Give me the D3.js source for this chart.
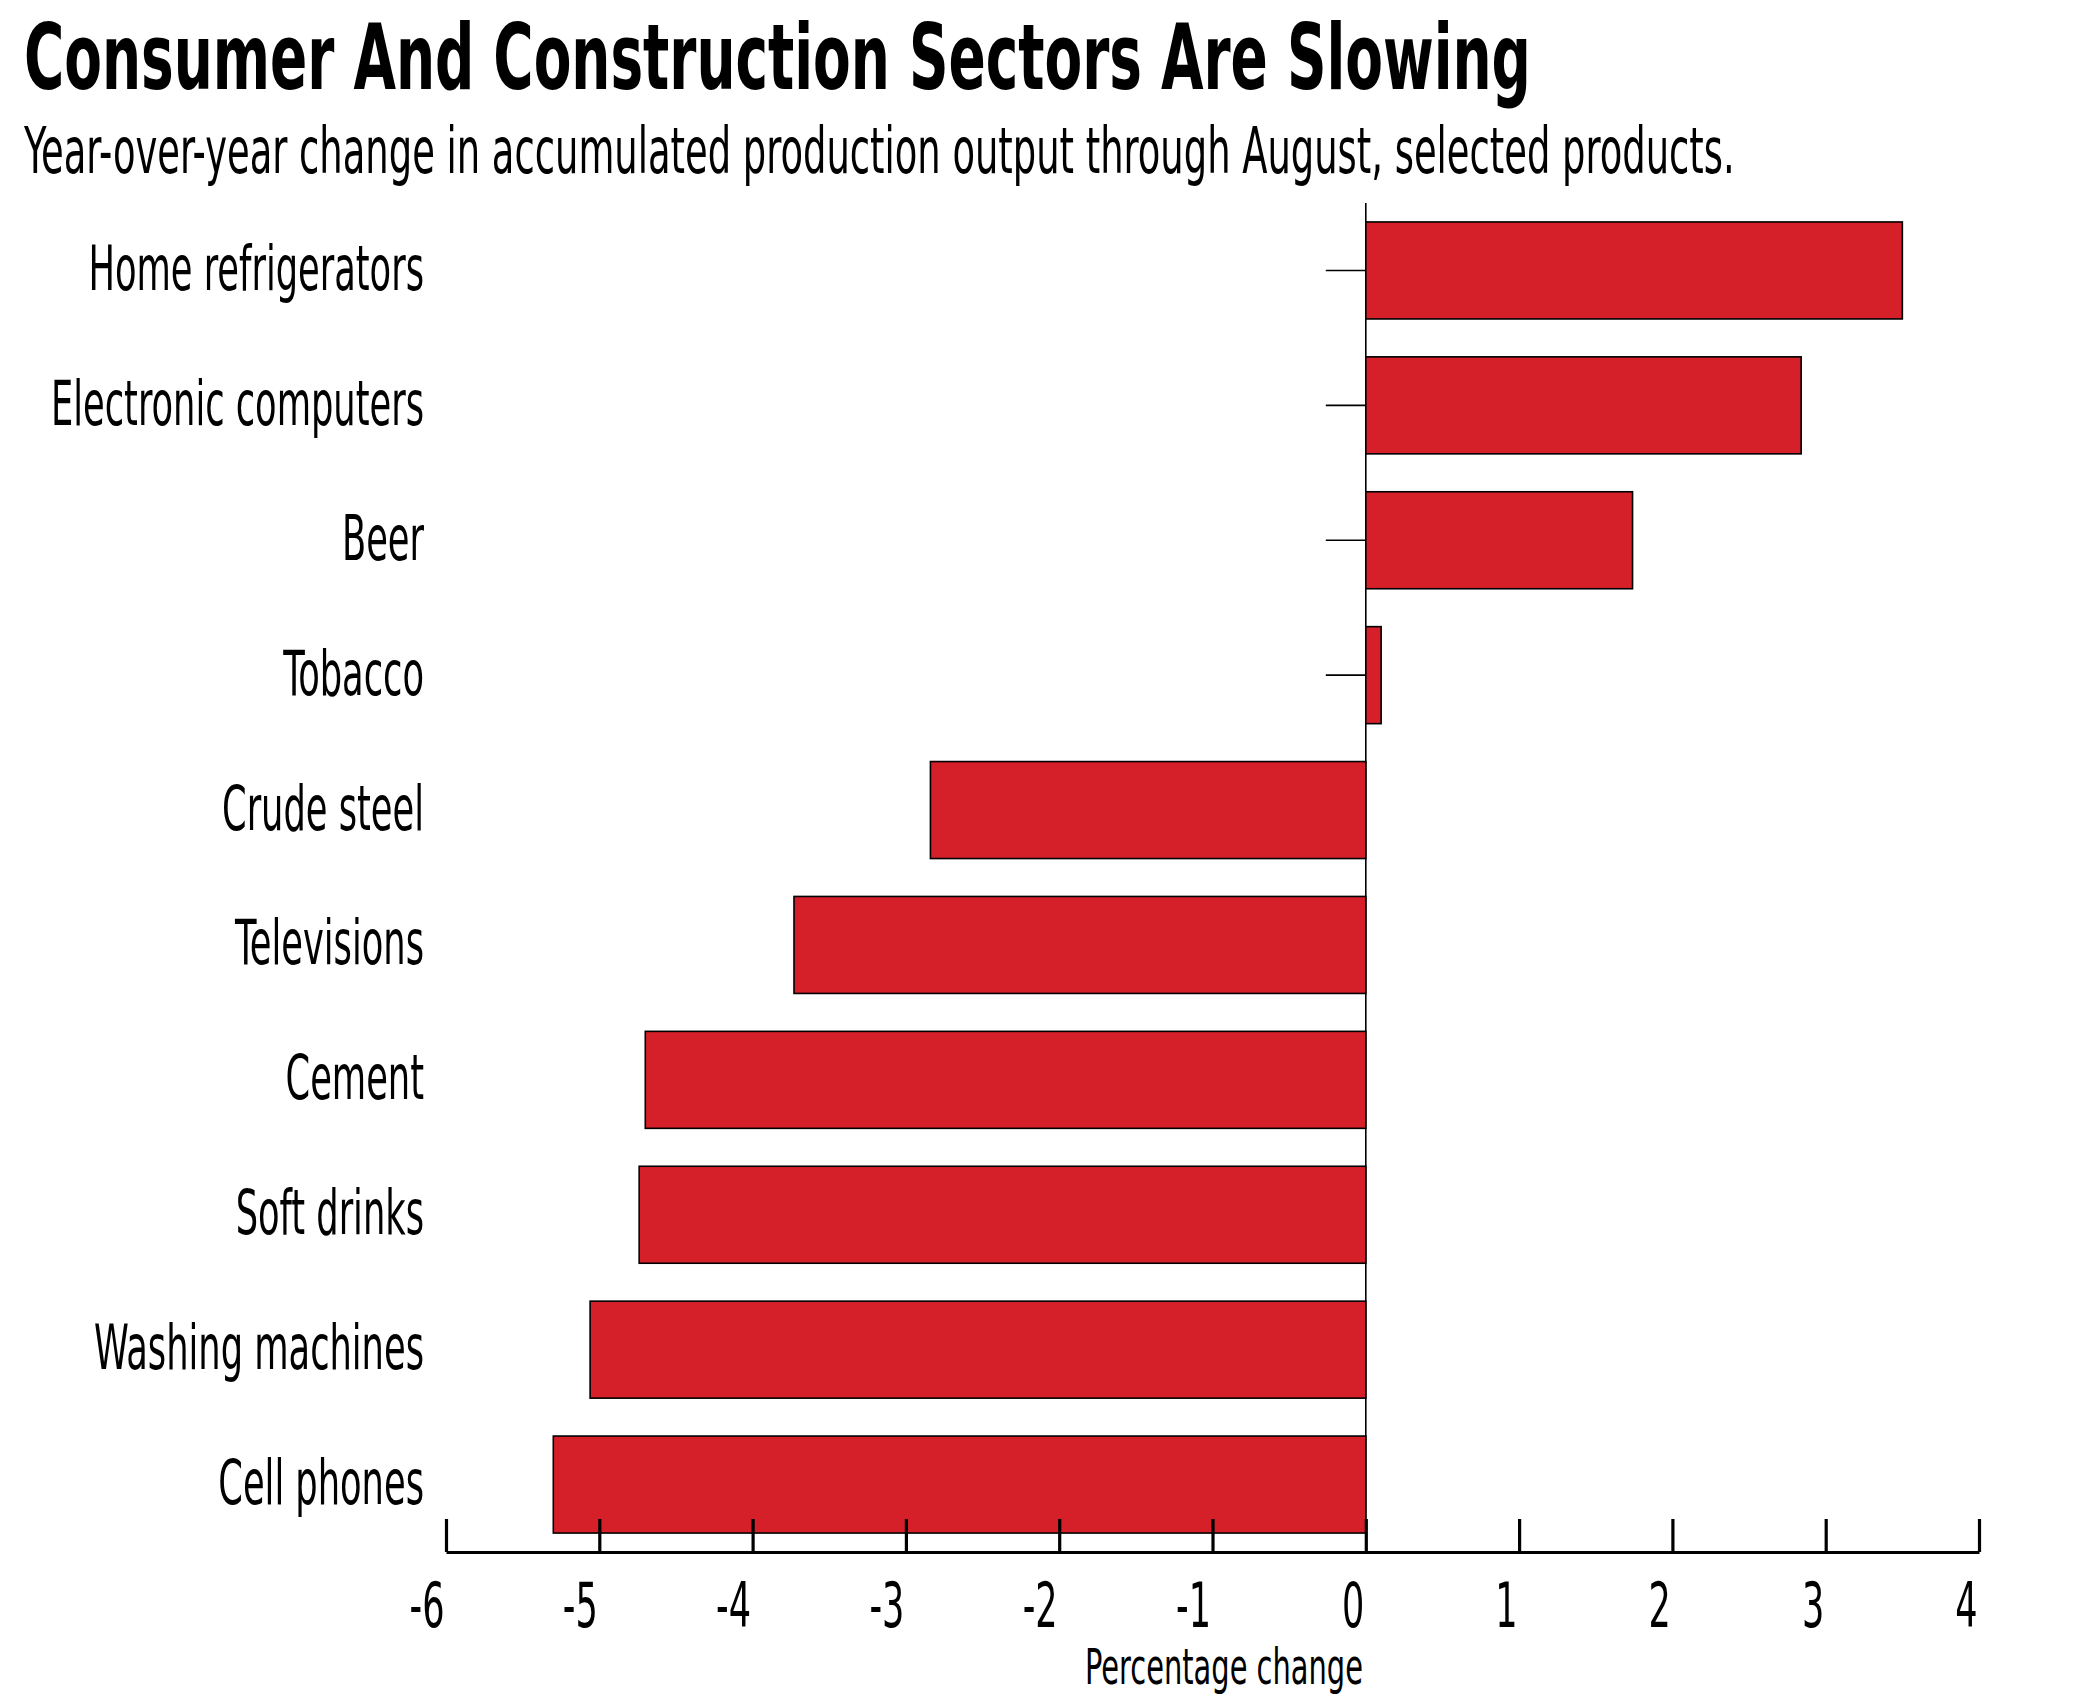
<!DOCTYPE html>
<html>
<head>
<meta charset="utf-8">
<script src="https://cdn.jsdelivr.net/npm/d3@7"></script>
<style>
  html, body { margin: 0; padding: 0; background: #fff; }
  svg { display: block; }
  text { font-family: "Liberation Sans Narrow", "DejaVu Sans Condensed", "Liberation Sans", sans-serif; fill: #000; }
</style>
</head>
<body>
<svg id="chart" width="2095" height="1699"></svg>
<script>
const titleText = "Consumer And Construction Sectors Are Slowing";
const subtitleText = "Year-over-year change in accumulated production output through August, selected products.";
const axisTitleText = "Percentage change";
const categories = ["Home refrigerators", "Electronic computers", "Beer", "Tobacco", "Crude steel",
                    "Televisions", "Cement", "Soft drinks", "Washing machines", "Cell phones"];
const values = [3.50, 2.84, 1.74, 0.10, -2.84, -3.73, -4.70, -4.74, -5.06, -5.30];
const xTicks = [-6, -5, -4, -3, -2, -1, 0, 1, 2, 3, 4];
const xTickLabels = ["-6", "-5", "-4", "-3", "-2", "-1", "0", "1", "2", "3", "4"];

const svg = d3.select("#chart");
svg.append("rect").attr("width", 2095).attr("height", 1699).attr("fill", "#fff");

const x = d3.scaleLinear().domain([-6, 4]).range([446, 1979]);
const y = d3.scaleBand().domain(categories).range([203, 1552]).paddingInner(0.281).paddingOuter(0.1405);

// Place a text with a small natural size, then stretch it to the target width/height
function placeStretched(txt, px, py, baseFs, targetW, targetFs, weight, anchor) {
  const t = svg.append("text").attr("x", 0).attr("y", 0)
    .attr("font-size", baseFs).attr("font-weight", weight || "normal")
    .attr("text-anchor", anchor || "start").text(txt);
  const w = t.node().getComputedTextLength();
  t.attr("transform", `translate(${px},${py}) scale(${targetW / w},${targetFs / baseFs})`);
  return t;
}
function scaleAll(sel, factor) {
  sel.each(function () {
    const w = this.getComputedTextLength();
    this.setAttribute("textLength", w * factor);
    this.setAttribute("lengthAdjust", "spacingAndGlyphs");
  });
}

// Title & subtitle
placeStretched(titleText, 24, 89, 60, 1507, 90, "bold", "start");
placeStretched(subtitleText, 24, 173, 40, 1711, 64, "normal", "start");

// y ticks at zero line
const yAxis = svg.append("g").attr("transform", `translate(${x(0)},0)`)
  .call(d3.axisLeft(y).tickSize(40).tickFormat(""));
yAxis.select(".domain").remove();
yAxis.selectAll(".tick line").attr("stroke", "#000").attr("stroke-width", 1.6);

// zero line
svg.append("line").attr("x1", x(0)).attr("x2", x(0))
  .attr("y1", y.range()[0]).attr("y2", y.range()[1])
  .attr("stroke", "#000").attr("stroke-width", 1.6);

// bars
svg.append("g").selectAll("rect").data(categories).join("rect")
  .attr("x", (d, i) => x(Math.min(0, values[i])))
  .attr("width", (d, i) => Math.abs(x(values[i]) - x(0)))
  .attr("y", d => y(d))
  .attr("height", y.bandwidth())
  .attr("fill", "#d52029")
  .attr("stroke", "#000")
  .attr("stroke-width", 1.6);

// category labels
const labels = svg.append("g").selectAll("text").data(categories).join("text")
  .attr("x", 424)
  .attr("y", d => y(d) + y.bandwidth() / 2 + 19.5)
  .attr("text-anchor", "end")
  .attr("font-size", 62)
  .text(d => d);
const refNode = labels.filter(d => d === "Electronic computers").node();
const labelFactor = 373 / refNode.getComputedTextLength();
scaleAll(labels, labelFactor);

// x axis
const xAxis = svg.append("g").attr("transform", `translate(0,${y.range()[1]})`)
  .call(d3.axisBottom(x).tickValues(xTicks).tickSize(-33).tickSizeOuter(0).tickPadding(31)
        .tickFormat((d, i) => xTickLabels[i]));
xAxis.attr("font-family", null).attr("font-size", null);
xAxis.select(".domain").attr("stroke", "#000").attr("stroke-width", 3.2);
xAxis.selectAll(".tick line").attr("stroke", "#000").attr("stroke-width", 3.2);
const tickTexts = xAxis.selectAll(".tick text")
  .attr("font-size", 62)
  .attr("text-anchor", "end")
  .attr("dx", -2)
  .attr("fill", "#000");
const sixNode = tickTexts.filter(d => d === -6).node();
const tickFactor = 35 / sixNode.getComputedTextLength();
scaleAll(tickTexts, tickFactor);

// axis title
placeStretched(axisTitleText, 1224, 1684, 40, 278, 49, "normal", "middle");
</script>
</body>
</html>
